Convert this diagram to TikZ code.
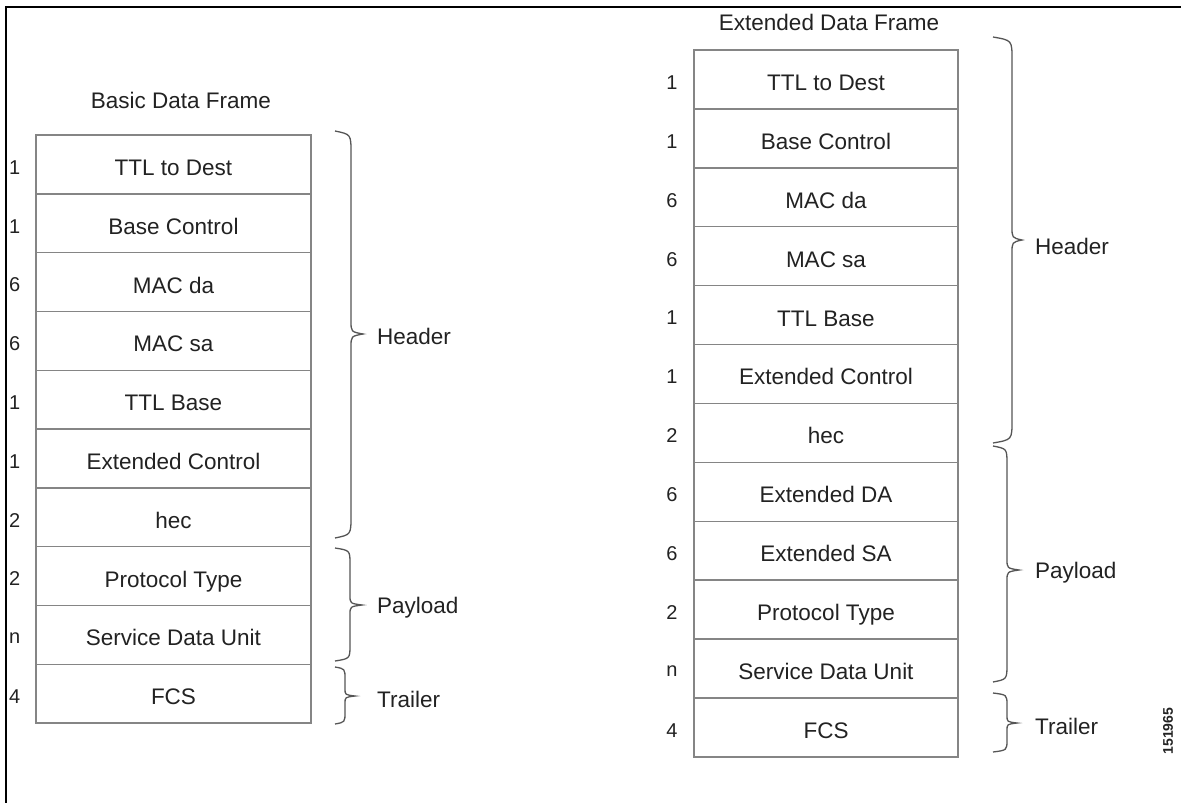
\documentclass[tikz,border=0pt]{standalone}
\usepackage{fontspec}
\setmainfont{Liberation Sans}
\definecolor{txt}{HTML}{222222}
\definecolor{cellline}{HTML}{858585}
\definecolor{brcline}{HTML}{555555}
\newcommand{\grpbrace}[7]{%
  \draw[brc] (#1,#4) .. controls (#2,#4+#7*0.15) .. (#2,#4+#7) -- (#2,#5-#7*0.6) .. controls (#2,#5-#7*0.1) .. (#3,#5) .. controls (#2,#5+#7*0.1) .. (#2,#5+#7*0.6) -- (#2,#6-#7) .. controls (#2,#6-#7*0.15) .. (#1,#6);}
\newcommand{\celltext}[1]{\smash{\raisebox{-11pt}{#1}}}
\tikzset{
  cell/.style={draw=cellline, line width=1.4pt, minimum height=58.8pt, minimum width=275pt, inner sep=0pt, text=txt, font=\fontsize{22.5}{26}\selectfont},
  rcell/.style={cell, minimum height=58.9pt, minimum width=264pt},
  num/.style={text=txt, inner sep=0pt, font=\fontsize{20}{24}\selectfont},
  lbl/.style={text=txt, inner sep=0pt, anchor=west, font=\fontsize{22.5}{26}\selectfont},
  ttl/.style={text=txt, inner sep=0pt, font=\fontsize{22.5}{26}\selectfont},
  brc/.style={draw=brcline, line width=1.3pt},
  frameline/.style={draw=black, line width=2pt}
}
\begin{document}
\begin{tikzpicture}[x=1pt,y=-1pt]
\useasboundingbox (0,0) rectangle (1181,803);
\fill[white] (0,0) rectangle (1181,803);
% outer frame (top and left)
\coordinate (ftl) at (6,7);
\coordinate (ftr) at (1181,7);
\coordinate (fbl) at (6,803);
\draw[frameline] (ftr) -- (ftl) -- (fbl);

% ---------- Basic Data Frame ----------
\node[ttl] (btitle) at (181,100) {Basic Data Frame};
\foreach \t [count=\i] in {TTL to Dest, Base Control, MAC da, MAC sa, TTL Base, Extended Control, hec, Protocol Type, Service Data Unit, FCS}
  \node[cell] (b\i) at (173.5,{135+58.8*(\i-0.5)}) {\celltext{\t}};
\foreach \n [count=\i] in {1,1,6,6,1,1,2,2,n,4}
  \node[num, anchor=west] (bn\i) at (9,{138+58.8*(\i-0.5)}) {\n};
\grpbrace{335}{351}{363}{131}{334}{538}{22}
\grpbrace{335}{350}{362}{548}{605}{661}{16}
\grpbrace{335}{345}{355}{667}{696}{724}{12}
\node[lbl] (bh) at (377,336) {Header};
\node[lbl] (bp) at (377,608) {Payload};
\node[lbl] (bt) at (377,699) {Trailer};

% ---------- Extended Data Frame ----------
\node[ttl] (etitle) at (829,22) {Extended Data Frame};
\foreach \t [count=\i] in {TTL to Dest, Base Control, MAC da, MAC sa, TTL Base, Extended Control, hec, Extended DA, Extended SA, Protocol Type, Service Data Unit, FCS}
  \node[rcell] (e\i) at (826,{50+58.9*(\i-0.5)}) {\celltext{\t}};
\foreach \n [count=\i] in {1,1,6,6,1,1,2,6,6,2,n,4}
  \node[num] (en\i) at (672,{53+58.9*(\i-0.5)}) {\n};
\grpbrace{993}{1012}{1022}{37}{240}{443}{22}
\grpbrace{993}{1007}{1019}{446}{570}{682}{18}
\grpbrace{993}{1007}{1017}{693}{723}{752}{12}
\node[lbl] (eh) at (1035,246) {Header};
\node[lbl] (ep) at (1035,573) {Payload};
\node[lbl] (et) at (1035,726) {Trailer};

\node[text=txt, rotate=90, inner sep=0pt, font=\fontsize{14}{16}\selectfont\bfseries] (fid) at (1168,731) {151965};
\end{tikzpicture}
\end{document}
